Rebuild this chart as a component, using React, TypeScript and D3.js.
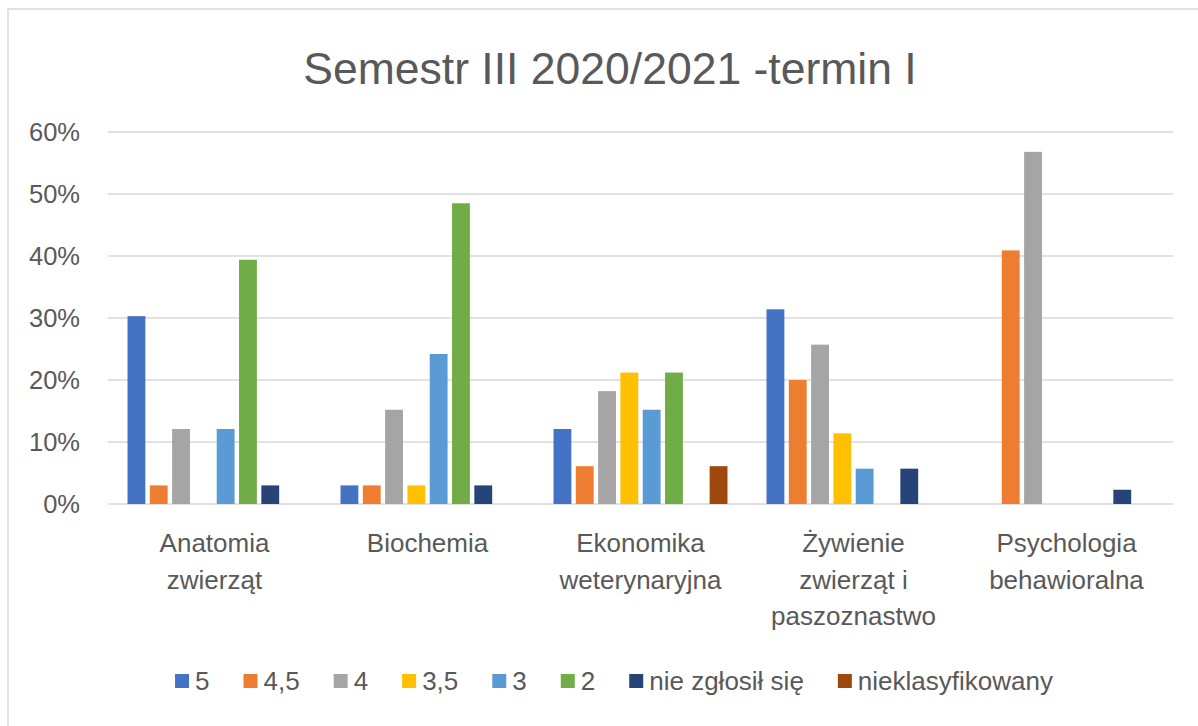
import { useEffect, useRef } from 'react'
import * as d3 from 'd3'

const categories = [
  ['Anatomia', 'zwierząt'],
  ['Biochemia'],
  ['Ekonomika', 'weterynaryjna'],
  ['Żywienie', 'zwierząt i', 'paszoznastwo'],
  ['Psychologia', 'behawioralna'],
]
const seriesNames = ['5', '4,5', '4', '3,5', '3', '2', 'nie zgłosił się', 'nieklasyfikowany']
const seriesColors = ['#4472C4', '#ED7D31', '#A5A5A5', '#FFC000', '#5B9BD5', '#70AD47', '#264478', '#9E480E']

const grade5 = [0.303, 0.030, 0.121, 0.314, 0]
const grade45 = [0.030, 0.030, 0.061, 0.200, 0.409]
const grade4 = [0.121, 0.152, 0.182, 0.257, 0.568]
const grade35 = [0, 0.030, 0.212, 0.114, 0]
const grade3 = [0.121, 0.242, 0.152, 0.057, 0]
const grade2 = [0.394, 0.485, 0.212, 0, 0]
const absent = [0.030, 0.030, 0, 0.057, 0.023]
const unclassified = [0, 0, 0.061, 0, 0]
const series = [grade5, grade45, grade4, grade35, grade3, grade2, absent, unclassified]

const yTicks = [0, 0.1, 0.2, 0.3, 0.4, 0.5, 0.6]
const title = 'Semestr III 2020/2021 -termin I'

export default function App() {
  const svgRef = useRef<SVGSVGElement>(null)

  const width = 1198
  const height = 726
  const font = '"Liberation Sans", Arial, sans-serif'
  const textColor = '#595959'
  const gridColor = '#d9d9d9'

  useEffect(() => {
    const svg = d3.select(svgRef.current)
    svg.selectAll('*').remove()

    svg.append('rect')
      .attr('x', 0).attr('y', 0).attr('width', width).attr('height', height)
      .attr('fill', '#fff')

    // chart border (only top/left visible in the crop)
    svg.append('rect')
      .attr('x', 8).attr('y', 9).attr('width', 1400).attr('height', 900)
      .attr('fill', 'none').attr('stroke', gridColor).attr('stroke-width', 1.5)

    const x0 = d3.scaleBand().domain(categories.map((_, i) => String(i))).range([108, 1173])
    const x1 = d3.scaleBand().domain(seriesNames).range([0, x0.bandwidth()])
      .paddingInner(0.2).paddingOuter(0.875)
    const y = d3.scaleLinear().domain([0, 0.6]).range([504, 132])

    svg.append('text')
      .attr('x', 610).attr('y', 84)
      .attr('text-anchor', 'middle')
      .attr('font-family', font).attr('font-size', 44.5)
      .attr('fill', textColor)
      .text(title)

    const grid = svg.append('g')
    grid.selectAll('line').data(yTicks).join('line')
      .attr('x1', 108).attr('x2', 1173)
      .attr('y1', d => y(d)).attr('y2', d => y(d))
      .attr('stroke', gridColor).attr('stroke-width', 1.5)

    svg.append('g').selectAll('text').data(yTicks).join('text')
      .attr('x', 80).attr('y', d => y(d) + 9)
      .attr('text-anchor', 'end')
      .attr('font-family', font).attr('font-size', 25.5)
      .attr('fill', textColor)
      .text(d => d3.format('.0%')(d))

    const bars = svg.append('g')
    series.forEach((vals, s) => {
      bars.append('g').selectAll('rect').data(vals).join('rect')
        .attr('x', (_, i) => x0(String(i))! + x1(seriesNames[s])!)
        .attr('width', x1.bandwidth())
        .attr('y', d => y(d))
        .attr('height', d => y(0) - y(d))
        .attr('fill', seriesColors[s])
    })

    const labels = svg.append('g')
    categories.forEach((lines, i) => {
      const cx = x0(String(i))! + x0.bandwidth() / 2
      const t = labels.append('text')
        .attr('text-anchor', 'middle')
        .attr('font-family', font).attr('font-size', 26)
        .attr('fill', textColor)
      lines.forEach((ln, k) => {
        t.append('tspan').attr('x', cx).attr('y', 552 + k * 36.5).text(ln)
      })
    })

    // legend, laid out from measured text widths
    const legend = svg.append('g')
    const items = seriesNames.map((name, s) => {
      const g = legend.append('g')
      g.append('rect').attr('x', 0).attr('y', -7).attr('width', 14).attr('height', 14)
        .attr('fill', seriesColors[s])
      const t = g.append('text').attr('x', 20).attr('y', 9)
        .attr('font-family', font).attr('font-size', 26)
        .attr('fill', textColor).text(name)
      const w = 20 + (t.node() as SVGTextElement).getComputedTextLength()
      return { g, w }
    })
    const gap = 34
    const total = d3.sum(items, d => d.w) + gap * (items.length - 1)
    let cur = 614 - total / 2
    items.forEach(it => {
      it.g.attr('transform', `translate(${cur},681)`)
      cur += it.w + gap
    })
  }, [])

  return (
    <svg
      ref={svgRef}
      width={width}
      height={height}
      style={{ position: 'absolute', left: 0, top: 0, display: 'block' }}
    />
  )
}
